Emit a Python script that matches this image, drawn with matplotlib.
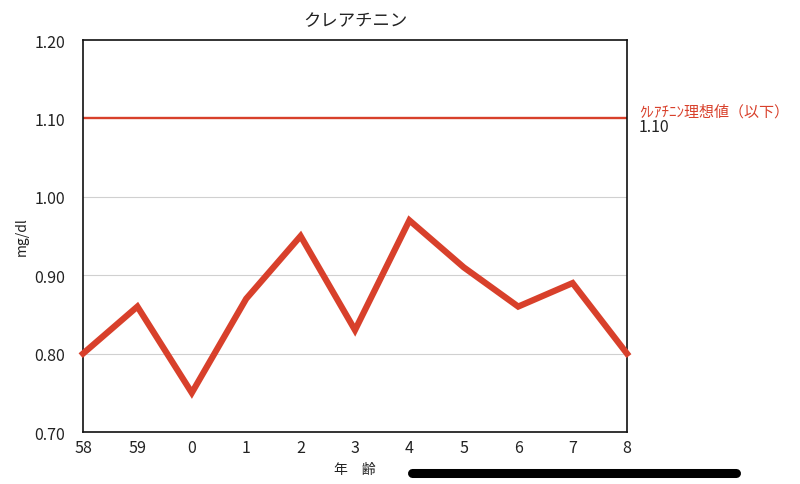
import matplotlib
matplotlib.use("Agg")
import matplotlib.pyplot as plt
from matplotlib.lines import Line2D

plt.rcParams['font.family'] = ['Noto Sans CJK JP', 'DejaVu Sans']

ages = ["58", "59", "0", "1", "2", "3", "4", "5", "6", "7", "8"]
values = [0.80, 0.86, 0.75, 0.87, 0.95, 0.83, 0.97, 0.91, 0.86, 0.89, 0.80]
ideal = 1.10
yticks = [0.70, 0.80, 0.90, 1.00, 1.10, 1.20]

red = "#d8402b"

fig = plt.figure(figsize=(8, 4.85), dpi=100)
ax = fig.add_axes([0.10375, 0.1072, 0.68, 0.8082])

x = list(range(len(ages)))
for yv in [0.80, 0.90, 1.00]:
    ax.axhline(yv, color="#d0d0d0", lw=0.8, zorder=1)
ax.axhline(ideal, color=red, lw=1.7, zorder=2)
ax.plot(x, values, color=red, lw=4.5, zorder=3, solid_joinstyle="miter", clip_on=False)

ax.set_xlim(0, len(ages) - 1)
ax.set_ylim(0.70, 1.20)
ax.set_xticks(x)
ax.set_xticklabels(ages, fontsize=11.5, color="#222222")
ax.set_yticks(yticks)
ax.set_yticklabels([f"{v:.2f}" for v in yticks], fontsize=11.5, color="#222222")
ax.tick_params(axis="both", length=0)
ax.tick_params(axis="y", pad=13)
ax.tick_params(axis="x", pad=5)
for s in ax.spines.values():
    s.set_color("#111111")
    s.set_linewidth(1.2)

ax.set_title("クレアチニン", fontsize=12.5, pad=11, color="#222222")
ax.set_xlabel("年　齢", fontsize=10, color="#222222", labelpad=4)
ax.set_ylabel("mg/dl", fontsize=10, color="#222222", labelpad=4)

ax.text(1.022, ideal, "ｸﾚｱﾁﾆﾝ理想値（以下）", transform=ax.get_yaxis_transform(),
        fontsize=10.8, color=red, va="bottom", ha="left")
ax.text(1.022, ideal, f"{ideal:.2f}", transform=ax.get_yaxis_transform(),
        fontsize=11.5, color="#222222", va="top", ha="left")

fig.add_artist(Line2D([0.515, 0.92], [0.023, 0.023], transform=fig.transFigure,
                      color="black", lw=6.5, solid_capstyle="round"))

fig.savefig("out.png", dpi=100)
